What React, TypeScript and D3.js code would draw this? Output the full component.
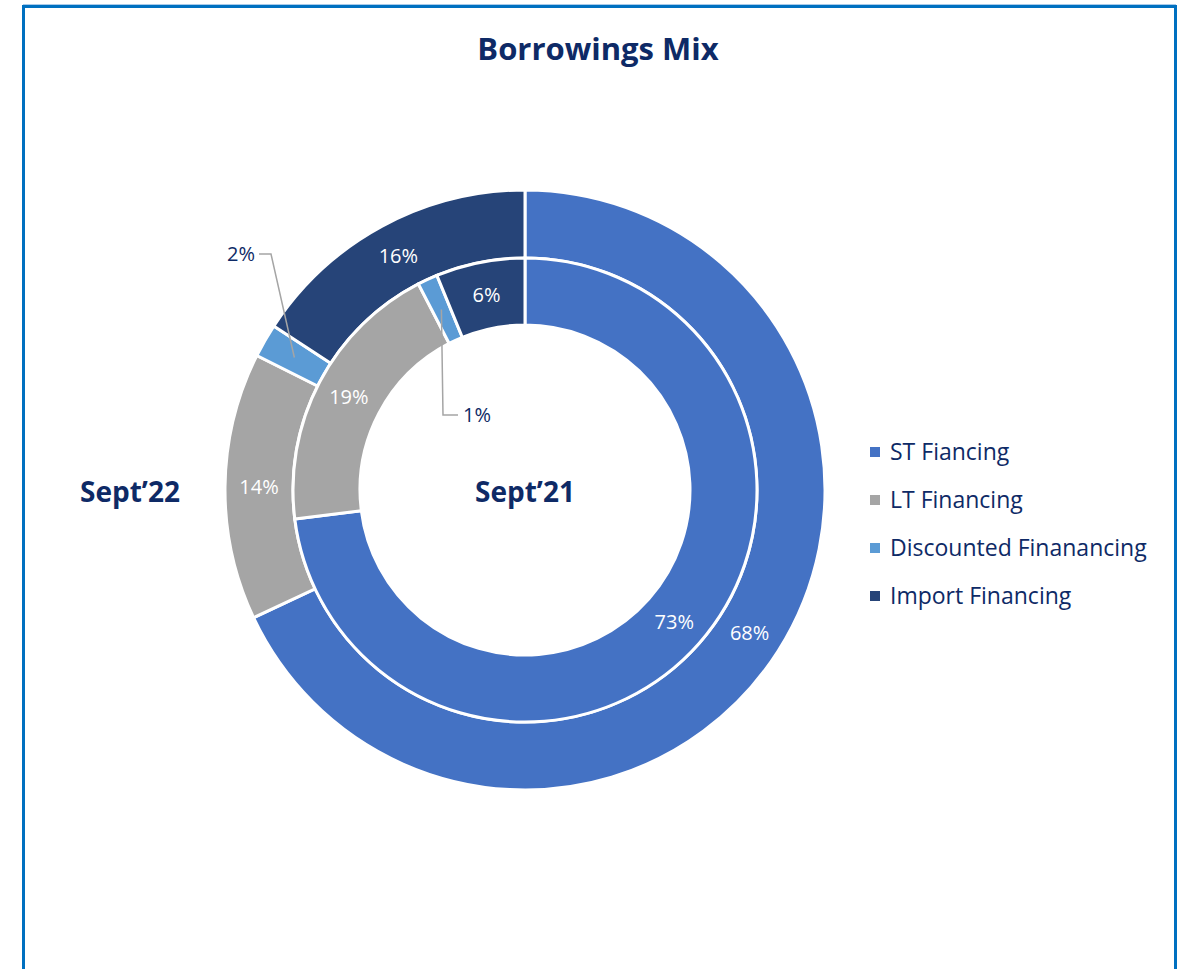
import React from "react";
import * as d3 from "d3";

const categories = ["ST Fiancing", "LT Financing", "Discounted Finanancing", "Import Financing"];
const colors = ["#4472C4", "#A5A5A5", "#5B9BD5", "#264478"];
const outerValues = [68, 14.4, 1.8, 15.8]; // Sept'22
const innerValues = [73, 19.4, 1.4, 6.2]; // Sept'21
const outerLabels = ["68%", "14%", "2%", "16%"];
const innerLabels = ["73%", "19%", "1%", "6%"];
const seriesNames = ["Sept\u201922", "Sept\u201921"];

const W = 1178;
const H = 969;
const cx = 525;
const cy = 490;
const navy = "#0E2A66";
const font = "'Open Sans', Lato, sans-serif";

export default function App() {
  const pie = d3.pie<number>().value((d) => d).sort(null);
  const outerArcs = pie(outerValues);
  const innerArcs = pie(innerValues);
  const outerArc = d3.arc<d3.PieArcDatum<number>>().innerRadius(232).outerRadius(300);
  const innerArc = d3.arc<d3.PieArcDatum<number>>().innerRadius(165).outerRadius(232);
  const outerLabelArc = d3.arc<d3.PieArcDatum<number>>().innerRadius(266).outerRadius(266);
  const innerLabelArc = d3.arc<d3.PieArcDatum<number>>().innerRadius(199).outerRadius(199);

  return (
    <svg width={W} height={H} style={{ position: "absolute", left: 0, top: 0 }}>
      <rect x={0} y={0} width={W} height={H} fill="#fff" />
      <line x1={23} x2={1176} y1={4.5} y2={4.5} stroke="#A9CBEA" strokeWidth={1} />
      <path d={`M23.5,${H + 5} V6.5 H1175.5 V${H + 5}`} fill="none" stroke="#0070C0" strokeWidth={3} />
      <text x={598} y={60} textAnchor="middle" fontFamily={font} fontWeight={700} fontSize={31} fill={navy}>
        Borrowings Mix
      </text>
      <g transform={`translate(${cx},${cy})`}>
        {outerArcs.map((a, i) => (
          <path key={"o" + i} d={outerArc(a)!} fill={colors[i]} stroke="#fff" strokeWidth={3} />
        ))}
        {innerArcs.map((a, i) => (
          <path key={"i" + i} d={innerArc(a)!} fill={colors[i]} stroke="#fff" strokeWidth={3} />
        ))}
        {outerArcs.map((a, i) => {
          if (i === 2) return null;
          const [x, y] = outerLabelArc.centroid(a);
          return (
            <text key={"ol" + i} x={x} y={y} dy="0.35em" textAnchor="middle" fontFamily={font} fontSize={20} fill="#fff">
              {outerLabels[i]}
            </text>
          );
        })}
        {innerArcs.map((a, i) => {
          if (i === 2) return null;
          const [x, y] = innerLabelArc.centroid(a);
          return (
            <text key={"il" + i} x={x} y={y} dy="0.35em" textAnchor="middle" fontFamily={font} fontSize={20} fill="#fff">
              {innerLabels[i]}
            </text>
          );
        })}
        {(() => {
          const [x, y] = outerLabelArc.centroid(outerArcs[2]);
          return (
            <g>
              <polyline points={`${x},${y} ${-254},${-236} ${-266},${-236}`} fill="none" stroke="#A5A5A5" strokeWidth={1.5} />
              <text x={-270} y={-236} dy="0.35em" textAnchor="end" fontFamily={font} fontSize={20} fill={navy}>
                {outerLabels[2]}
              </text>
            </g>
          );
        })()}
        {(() => {
          const [x, y] = innerLabelArc.centroid(innerArcs[2]);
          return (
            <g>
              <polyline points={`${x},${y} ${-82},${-75} ${-67},${-75}`} fill="none" stroke="#A5A5A5" strokeWidth={1.5} />
              <text x={-62} y={-75} dy="0.35em" textAnchor="start" fontFamily={font} fontSize={20} fill={navy}>
                {innerLabels[2]}
              </text>
            </g>
          );
        })()}
        <text x={0} y={2} dy="0.35em" textAnchor="middle" fontFamily={font} fontWeight={700} fontSize={28} fill={navy}>
          {seriesNames[1]}
        </text>
      </g>
      <text x={130} y={492} dy="0.35em" textAnchor="middle" fontFamily={font} fontWeight={700} fontSize={28} fill={navy}>
        {seriesNames[0]}
      </text>
      {categories.map((c, i) => (
        <g key={c} transform={`translate(870,${452 + i * 48})`}>
          <rect x={0} y={-5} width={10} height={10} fill={colors[i]} />
          <text x={20} y={0} dy="0.35em" fontFamily={font} fontSize={23} fill={navy}>
            {c}
          </text>
        </g>
      ))}
    </svg>
  );
}
